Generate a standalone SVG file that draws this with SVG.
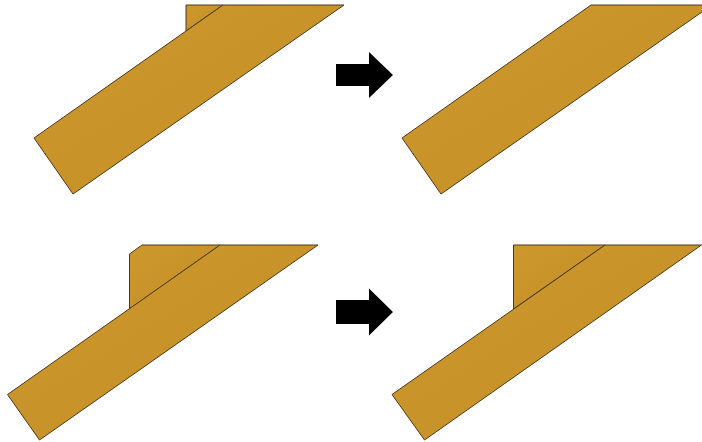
<svg xmlns="http://www.w3.org/2000/svg" width="702" height="442" viewBox="0 0 702 442">
  <defs>
    <linearGradient id="wood" x1="0" y1="0" x2="1" y2="1">
      <stop offset="0" stop-color="#CD982C"/>
      <stop offset="1" stop-color="#C48E26"/>
    </linearGradient>
    <style>
      .piece { fill: url(#wood); stroke: #4a3a1c; stroke-width: 1; stroke-linejoin: miter; }
      .arrow { fill: #000000; stroke: none; }
    </style>
  </defs>
  <rect width="702" height="442" fill="#ffffff"/>

  <g id="top-before">
    <polygon class="piece" points="186,5 223,5 186,31"/>
    <polygon class="piece" points="34,138 223,5 344,5 73,194"/>
  </g>

  <g id="top-after">
    <polygon class="piece" points="402,138 591,5 712,5 441,194"/>
  </g>

  <g id="bottom-before">
    <polygon class="piece" points="129.5,254 142,245 220,245 129.5,309"/>
    <polygon class="piece" points="7.5,394.5 220,245 318,245 39.5,440"/>
  </g>

  <g id="bottom-after">
    <polygon class="piece" points="513.5,245 605,245 513.5,309"/>
    <polygon class="piece" points="392,394.5 605,245 701.5,245 424.5,440"/>
  </g>

  <g id="connectors">
    <polygon class="arrow" points="336,64 369,64 369,52 393,75 369,98 369,86 336,86"/>
    <polygon class="arrow" points="336,300 369,300 369,288.5 393,312 369,335.5 369,324 336,324"/>
  </g>
</svg>
